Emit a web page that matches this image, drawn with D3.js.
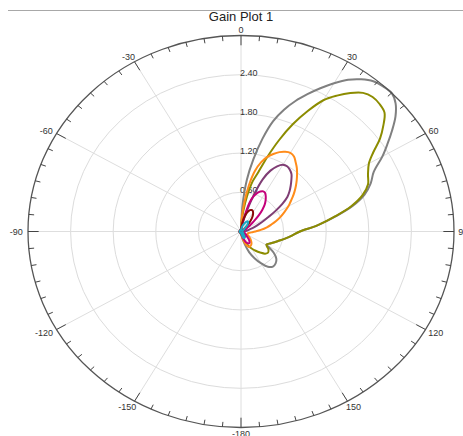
<!DOCTYPE html>
<html>
<head>
<meta charset="utf-8">
<script src="https://cdn.jsdelivr.net/npm/d3@7"></script>
<style>
  body { margin: 0; background: #fff; }
  svg { display: block; font-family: "Liberation Sans", Arial, sans-serif; }
</style>
</head>
<body>
<div id="chart"></div>
<script>
// angle in degrees (0 = up, clockwise), gain values
const angles = [-180, -120, -60, -20, 0, 3, 6, 9, 12, 15, 18, 21, 24, 27, 30, 33, 36, 39, 42, 45,
  48, 51, 54, 57, 60, 64, 68, 72, 76, 80, 85, 90, 95, 100, 105, 110, 115, 119, 122, 125,
  130, 135, 140, 145, 150, 155, 160, 165, 170, 175];

const grayGain = [0.02, 0.02, 0.02, 0.02, 0.05, 0.4, 0.8, 1.12, 1.45, 1.75, 1.96, 2.14, 2.3, 2.46, 2.62, 2.77, 2.88, 2.96, 2.99, 3.0,
  2.93, 2.8, 2.63, 2.46, 2.3, 2.08, 1.97, 1.83, 1.62, 1.36, 1.08, 0.83, 0.72, 0.63, 0.55, 0.49, 0.44, 0.41, 0.47, 0.56,
  0.65, 0.69, 0.70, 0.66, 0.56, 0.45, 0.34, 0.2, 0.1, 0.04];
const oliveGain = [0.02, 0.02, 0.02, 0.02, 0.04, 0.15, 0.32, 0.55, 0.78, 0.94, 1.2, 1.5, 1.8, 2.07, 2.32, 2.48, 2.62, 2.73, 2.77, 2.76,
  2.72, 2.58, 2.42, 2.22, 2.08, 1.99, 1.93, 1.8, 1.6, 1.35, 1.08, 0.83, 0.72, 0.63, 0.55, 0.49, 0.44, 0.41, 0.43, 0.47,
  0.5, 0.48, 0.42, 0.36, 0.3, 0.24, 0.18, 0.12, 0.07, 0.03];
const orangeGain = [0.02, 0.02, 0.02, 0.02, 0.03, 0.2, 0.45, 0.72, 0.95, 1.1, 1.2, 1.27, 1.33, 1.37, 1.39, 1.37, 1.31, 1.25, 1.18, 1.11,
  1.04, 0.97, 0.9, 0.83, 0.77, 0.68, 0.6, 0.52, 0.44, 0.37, 0.28, 0.2, 0.15, 0.12, 0.1, 0.1, 0.1, 0.11, 0.12, 0.14,
  0.17, 0.2, 0.23, 0.25, 0.26, 0.26, 0.22, 0.16, 0.09, 0.04];
const purpleGain = [0.02, 0.02, 0.02, 0.02, 0.02, 0.03, 0.05, 0.1, 0.18, 0.35, 0.6, 0.86, 1.02, 1.12, 1.18, 1.19, 1.17, 1.13, 1.06, 0.99,
  0.92, 0.84, 0.72, 0.58, 0.45, 0.33, 0.24, 0.17, 0.12, 0.09, 0.07, 0.05, 0.04, 0.04, 0.04, 0.04, 0.04, 0.05, 0.05, 0.06,
  0.07, 0.08, 0.09, 0.1, 0.1, 0.09, 0.08, 0.06, 0.04, 0.03];
const magentaGain = [0.02, 0.02, 0.02, 0.02, 0.02, 0.03, 0.06, 0.12, 0.25, 0.45, 0.56, 0.63, 0.67, 0.69, 0.68, 0.64, 0.59, 0.53, 0.45, 0.36,
  0.27, 0.2, 0.15, 0.11, 0.09, 0.07, 0.05, 0.04, 0.04, 0.04, 0.04, 0.04, 0.04, 0.04, 0.04, 0.05, 0.06, 0.07, 0.08, 0.09,
  0.1, 0.14, 0.18, 0.21, 0.21, 0.19, 0.15, 0.1, 0.06, 0.03];
const darkRedGain = [0.02, 0.02, 0.02, 0.02, 0.02, 0.03, 0.08, 0.15, 0.22, 0.28, 0.32, 0.35, 0.36, 0.36, 0.34, 0.31, 0.27, 0.22, 0.17, 0.12,
  0.08, 0.06, 0.04, 0.03, 0.03, 0.02, 0.02, 0.02, 0.02, 0.02, 0.02, 0.02, 0.02, 0.02, 0.02, 0.02, 0.02, 0.03, 0.03, 0.03,
  0.04, 0.05, 0.06, 0.07, 0.08, 0.08, 0.07, 0.05, 0.03, 0.02];
const cyanGain = [0.02, 0.02, 0.02, 0.02, 0.02, 0.03, 0.04, 0.05, 0.07, 0.09, 0.11, 0.13, 0.15, 0.17, 0.18, 0.18, 0.17, 0.15, 0.13, 0.1,
  0.08, 0.06, 0.05, 0.04, 0.03, 0.03, 0.02, 0.02, 0.02, 0.02, 0.02, 0.02, 0.02, 0.02, 0.02, 0.02, 0.03, 0.03, 0.03, 0.04,
  0.04, 0.05, 0.06, 0.08, 0.1, 0.11, 0.1, 0.07, 0.04, 0.03];

const traces = [
  { name: 'gray', gain: grayGain, color: '#808080' },
  { name: 'olive', gain: oliveGain, color: '#8c8c00' },
  { name: 'orange', gain: orangeGain, color: '#ff8c1a' },
  { name: 'purple', gain: purpleGain, color: '#7f3d74' },
  { name: 'magenta', gain: magentaGain, color: '#c4007a' },
  { name: 'darkred', gain: darkRedGain, color: '#8b0a0a' },
  { name: 'cyan', gain: cyanGain, color: '#1aa8c4' }
];

const ringValues = [0.6, 1.2, 1.8, 2.4];
const ringLabels = ['0.60', '1.20', '1.80', '2.40'];
const spokeAngles = [0, 30, 60, 90, 120, 150, 180, 210, 240, 270, 300, 330];
const spokeLabels = ['0', '30', '60', '90', '120', '150', '-180', '-150', '-120', '-90', '-60', '-30'];
const title = 'Gain Plot 1';

const width = 463, height = 436;
const cx = 241, cy = 231.5, rx = 213, ry = 196;
const maxGain = 3.0;

const svg = d3.select('#chart').append('svg')
  .attr('width', width)
  .attr('height', height);

// polar plot is stretched a bit horizontally, so use two linear scales
const x = d3.scaleLinear().domain([-maxGain, maxGain]).range([cx - rx, cx + rx]);
const y = d3.scaleLinear().domain([-maxGain, maxGain]).range([cy + ry, cy - ry]);
const rad = a => a * Math.PI / 180;
const px = (a, g) => x(g * Math.sin(rad(a)));
const py = (a, g) => y(g * Math.cos(rad(a)));

// top rule + title
svg.append('line')
  .attr('x1', 8).attr('x2', width)
  .attr('y1', 10.5).attr('y2', 10.5)
  .attr('stroke', '#a8a8a8').attr('stroke-width', 1);

svg.append('text')
  .attr('x', cx).attr('y', 21)
  .attr('text-anchor', 'middle')
  .attr('font-size', '13px')
  .attr('fill', '#222')
  .text(title);

// grid rings
svg.append('g').selectAll('ellipse')
  .data(ringValues)
  .enter().append('ellipse')
  .attr('cx', cx).attr('cy', cy)
  .attr('rx', d => x(d) - x(0))
  .attr('ry', d => y(0) - y(d))
  .attr('fill', 'none')
  .attr('stroke', '#dcdcdc')
  .attr('stroke-width', 1);

// spokes
svg.append('g').selectAll('line')
  .data(spokeAngles)
  .enter().append('line')
  .attr('x1', x(0)).attr('y1', y(0))
  .attr('x2', d => px(d, maxGain))
  .attr('y2', d => py(d, maxGain))
  .attr('stroke', '#dedede')
  .attr('stroke-width', 1);

// ring labels along 0 deg
svg.append('g').selectAll('text')
  .data(ringValues)
  .enter().append('text')
  .attr('x', cx - 1)
  .attr('y', d => y(d) - 2)
  .attr('dy', '0.35em')
  .attr('font-size', '9px')
  .attr('fill', '#333')
  .text((d, i) => ringLabels[i]);

// traces
const line = d3.line()
  .x(d => px(d[0], d[1]))
  .y(d => py(d[0], d[1]))
  .curve(d3.curveCatmullRomClosed.alpha(0.5));

svg.append('g').selectAll('path')
  .data(traces)
  .enter().append('path')
  .attr('d', t => line(angles.map((a, i) => [a, t.gain[i]])))
  .attr('fill', 'none')
  .attr('stroke', t => t.color)
  .attr('stroke-width', 2)
  .attr('stroke-linejoin', 'round');

// outer circle
svg.append('ellipse')
  .attr('cx', cx).attr('cy', cy)
  .attr('rx', rx).attr('ry', ry)
  .attr('fill', 'none')
  .attr('stroke', '#555')
  .attr('stroke-width', 1.3);

// ticks every 5 deg, longer every 30
const tickAngles = d3.range(0, 360, 5);
svg.append('g').selectAll('line')
  .data(tickAngles)
  .enter().append('line')
  .attr('x1', d => px(d, maxGain))
  .attr('y1', d => py(d, maxGain))
  .attr('x2', d => px(d, maxGain * (1 - (d % 30 === 0 ? 10 : 5) / 200)))
  .attr('y2', d => py(d, maxGain * (1 - (d % 30 === 0 ? 10 : 5) / 200)))
  .attr('stroke', '#444')
  .attr('stroke-width', 1);

// angle labels
svg.append('g').selectAll('text')
  .data(spokeAngles)
  .enter().append('text')
  .attr('font-size', '9px')
  .attr('fill', '#333')
  .attr('text-anchor', 'middle')
  .attr('dy', '0.35em')
  .text((d, i) => spokeLabels[i])
  .attr('x', (d, i) => px(d, maxGain) + Math.sin(rad(d)) * (4 + spokeLabels[i].length * 2.6))
  .attr('y', d => py(d, maxGain) - Math.cos(rad(d)) * 6);
</script>
</body>
</html>
